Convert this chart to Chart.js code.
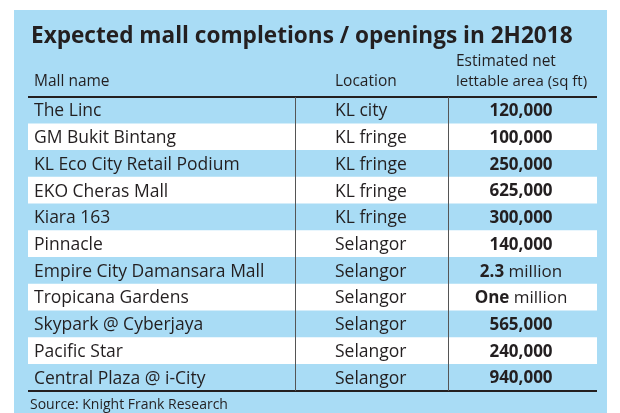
<!DOCTYPE html>
<html><head><meta charset="utf-8">
<script src="https://cdn.jsdelivr.net/npm/chart.js@4"></script>
<style>html,body{margin:0;background:#fff}#c{display:block}</style>
</head><body>
<canvas id="c" width="620" height="413"></canvas>
<script>
const MALLS = ["The Linc","GM Bukit Bintang","KL Eco City Retail Podium","EKO Cheras Mall","Kiara 163","Pinnacle","Empire City Damansara Mall","Tropicana Gardens","Skypark @ Cyberjaya","Pacific Star","Central Plaza @ i-City"];
const LOCATIONS = ["KL city","KL fringe","KL fringe","KL fringe","KL fringe","Selangor","Selangor","Selangor","Selangor","Selangor","Selangor"];
const AREA_BOLD = ["120,000","100,000","250,000","625,000","300,000","140,000","2.3","One","565,000","240,000","940,000"];
const AREA_REST = ["","","","","","",""," million"," million","",""].map((s,i)=>(i===6||i===7)?" million":"");
const ROW_COLORS = MALLS.map((m,i)=> i%2===0 ? '#a9dcf5' : '#ffffff');

const FONT = '"Open Sans", sans-serif';
const INK = '#231f20';

const tablePlugin = {
  id: 'table',
  beforeDraw(chart){
    const ctx = chart.ctx;
    ctx.save();
    ctx.fillStyle = '#fff'; ctx.fillRect(0,0,chart.width,chart.height);
    ctx.fillStyle = '#a9dcf5'; ctx.fillRect(14,10,593,403);
    ctx.restore();
  },
  afterDatasetsDraw(chart){
    const ctx = chart.ctx, a = chart.chartArea, y = chart.scales.y;
    const c1 = 295, c2 = 448;
    ctx.save();
    ctx.fillStyle = INK;
    ctx.textBaseline = 'alphabetic';
    ctx.font = 'bold 22.6px ' + FONT;
    ctx.fillText('Expected mall completions / openings in 2H2018', 31, 43);
    ctx.font = '15.5px ' + FONT;
    ctx.fillText('Mall name', 34, 86);
    ctx.fillText('Location', 335, 86);
    ctx.fillText('Estimated net', 456, 66);
    ctx.font = '15px ' + FONT;
    ctx.fillText('lettable area (sq ft)', 456, 86, 141);
    ctx.strokeStyle = INK; ctx.lineWidth = 2;
    ctx.beginPath(); ctx.moveTo(a.left,a.top); ctx.lineTo(a.right,a.top);
    ctx.moveTo(a.left,a.bottom); ctx.lineTo(a.right,a.bottom); ctx.stroke();
    ctx.lineWidth = 1; ctx.strokeStyle = '#555';
    ctx.beginPath(); ctx.moveTo(c1+.5,a.top); ctx.lineTo(c1+.5,a.bottom);
    ctx.moveTo(c2+.5,a.top); ctx.lineTo(c2+.5,a.bottom); ctx.stroke();
    ctx.textBaseline = 'middle';
    MALLS.forEach((m,i)=>{
      const py = y.getPixelForValue(i) + 1;
      ctx.textAlign = 'left';
      ctx.font = '17.5px ' + FONT;
      ctx.fillText(m, 34, py);
      ctx.fillText(LOCATIONS[i], 335, py);
      ctx.font = 'bold 17px ' + FONT;
      const wb = ctx.measureText(AREA_BOLD[i]).width;
      ctx.font = '17px ' + FONT;
      const wr = ctx.measureText(AREA_REST[i]).width;
      const x0 = 521 - (wb+wr)/2;
      ctx.font = 'bold 17px ' + FONT;
      ctx.fillText(AREA_BOLD[i], x0, py);
      ctx.font = '17px ' + FONT;
      ctx.fillText(AREA_REST[i], x0+wb, py);
    });
    ctx.font = '14px ' + FONT;
    ctx.textBaseline = 'alphabetic';
    ctx.fillText('Source: Knight Frank Research', 30, 409);
    ctx.restore();
  }
};

new Chart(document.getElementById('c'), {
  type: 'bar',
  data: {
    labels: MALLS,
    datasets: [{ data: MALLS.map(()=>[0,1]), backgroundColor: ROW_COLORS, barPercentage: 1, categoryPercentage: 1, borderWidth: 0 }]
  },
  options: {
    indexAxis: 'y', responsive: false, animation: false,
    layout: { padding: { top: 97, bottom: 22, left: 28, right: 23 } },
    scales: {
      x: { display: false, min: 0, max: 1 },
      y: { display: false }
    },
    plugins: { legend: { display: false }, tooltip: { enabled: false } }
  },
  plugins: [tablePlugin]
});
</script>
</body></html>
